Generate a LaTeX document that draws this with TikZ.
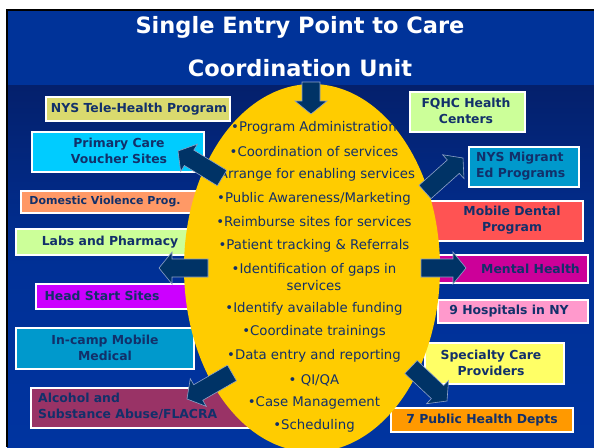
\documentclass[tikz,border=0pt]{standalone}
\usepackage{fontspec}
\setmainfont{DejaVu Sans}
\usetikzlibrary{calc}
\definecolor{navytext}{HTML}{12306A}
\definecolor{titlebar}{HTML}{003399}
\definecolor{arrowblue}{HTML}{003366}
\definecolor{arrowedge}{HTML}{8FA3C8}
\definecolor{ellfill}{HTML}{FFCC00}
\definecolor{cKhaki}{HTML}{DADA6E}
\definecolor{cCyan}{HTML}{00CCFF}
\definecolor{cSalmon}{HTML}{FF9966}
\definecolor{cLime}{HTML}{CCFF99}
\definecolor{cViolet}{HTML}{CC00FF}
\definecolor{cTeal}{HTML}{0099CC}
\definecolor{cPlum}{HTML}{993366}
\definecolor{cRed}{HTML}{FF5353}
\definecolor{cMagenta}{HTML}{CC0099}
\definecolor{cPink}{HTML}{FF99CC}
\definecolor{cYellow}{HTML}{FFFF66}
\definecolor{cOrange}{HTML}{FF9900}
\tikzset{
  boxsty/.style={draw=white, line width=1.3pt},
  boxtxt/.style={font=\bfseries\fontsize{12.4}{16}\selectfont, text=navytext, align=center, inner sep=0pt},
  elltxt/.style={font=\fontsize{13.3}{15}\selectfont, text=navytext, inner sep=0pt},
  titletxt/.style={font=\bfseries\fontsize{22.5}{26}\selectfont, text=white, inner sep=0pt},
  blockarr/.style={fill=arrowblue, draw=arrowedge, line width=0.6pt, line join=miter},
}
\newcommand{\blockarrow}[2]{%
  \coordinate (#1h) at ($(#2)!13pt!(#1)$);
  \draw[blockarr] ($(#1)!9pt!90:(#2)$) -- ($(#1h)!9pt!90:(#2)$) -- ($(#1h)!16pt!90:(#2)$) -- (#2)
    -- ($(#1h)!16pt!-90:(#2)$) -- ($(#1h)!9pt!-90:(#2)$) -- ($(#1)!9pt!-90:(#2)$) -- cycle;}
\begin{document}
\begin{tikzpicture}[x=1pt,y=-1pt]
\useasboundingbox (0,0) rectangle (594,447);
\fill[white] (0,0) rectangle (594,447);
% background
\shade[top color={rgb,255:red,4;green,32;blue,108}, bottom color={rgb,255:red,0;green,52;blue,160}, middle color={rgb,255:red,0;green,48;blue,150}] (7,85) rectangle (594,447);
\fill[titlebar] (7,10) rectangle (594,85);
\draw[black, line width=1.5pt] (6.75,447) -- (6.75,9.75) -- (594,9.75);
\node[titletxt] (title1) at (300,27) {Single Entry Point to Care};
\node[titletxt] (title2) at (300,68) {Coordination Unit};
% left boxes
\draw[boxsty, fill=cKhaki] (46,97) rectangle (230,121);
\node[boxtxt] (tele) at (139,109) {NYS Tele-Health Program};
\draw[boxsty, fill=cCyan] (32,132) rectangle (204,172);
\node[boxtxt] (pcv) at (119,151) {Primary Care\\Voucher Sites};
\draw[boxsty, fill=cSalmon] (21,191) rectangle (200,213);
\node[boxtxt, font=\bfseries\fontsize{11}{13}\selectfont] (dv) at (105,202) {Domestic Violence Prog.};
\draw[boxsty, fill=cLime] (16,229) rectangle (200,255);
\node[boxtxt] (labs) at (110,242) {Labs and Pharmacy};
\draw[boxsty, fill=cViolet] (36,284) rectangle (200,309);
\node[boxtxt] (head) at (102,296) {Head Start Sites};
\draw[boxsty, fill=cTeal] (16,328) rectangle (194,369);
\node[boxtxt] (incamp) at (105,348) {In-camp Mobile\\Medical};
\draw[boxsty, fill=cPlum] (31,388) rectangle (260,428);
\node[boxtxt, align=left, anchor=west] (alc) at (38,406) {Alcohol and\\Substance Abuse/FLACRA};
% right boxes
\draw[boxsty, fill=cLime] (410,92) rectangle (525,132);
\node[boxtxt] (fqhc) at (466,111) {FQHC Health\\Centers};
\draw[boxsty, fill=cTeal] (469,147) rectangle (579,187);
\node[boxtxt, align=left, anchor=west] (mig) at (476,166) {NYS Migrant\\Ed Programs};
\draw[boxsty, fill=cRed] (430,201) rectangle (583,241);
\node[boxtxt] (dental) at (512,220) {Mobile Dental\\Program};
\draw[boxsty, fill=cMagenta] (430,255) rectangle (588,283);
\node[boxtxt, anchor=east] (mental) at (580,269) {Mental Health};
\draw[boxsty, fill=cPink] (438,300) rectangle (588,323);
\node[boxtxt] (hosp) at (509,311.5) {9 Hospitals in NY};
\draw[boxsty, fill=cYellow] (425,343) rectangle (564,384);
\node[boxtxt] (spec) at (491,363) {Specialty Care\\Providers};
\draw[boxsty, fill=cOrange] (391,408) rectangle (573,432);
\node[boxtxt] (phd) at (482,420) {7 Public Health Depts};
% central ellipse
\fill[ellfill] (312,268) ellipse [x radius=128, y radius=184];
\node[elltxt] (e1) at (314,128) {•Program Administration};
\node[elltxt] (e2) at (314,152) {•Coordination of services};
\node[elltxt] (e3) at (317,175) {Arrange for enabling services};
\node[elltxt] (e4) at (314,199) {•Public Awareness/Marketing};
\node[elltxt] (e5) at (314,222) {•Reimburse sites for services};
\node[elltxt] (e6) at (314,246) {•Patient tracking \& Referrals};
\node[elltxt] (e7) at (314,270) {•Identification of gaps in};
\node[elltxt] (e7b) at (314,286) {services};
\node[elltxt] (e8) at (314,309) {•Identify available funding};
\node[elltxt] (e9) at (314,332) {•Coordinate trainings};
\node[elltxt] (e10) at (314,356) {•Data entry and reporting};
\node[elltxt] (e11) at (314,380) {• QI/QA};
\node[elltxt] (e12) at (314,403) {•Case Management};
\node[elltxt] (e13) at (314,426) {•Scheduling};
% arrows
\coordinate (dT) at (311,82);   \coordinate (dH) at (311,114);
\coordinate (ulT) at (222,178); \coordinate (ulH) at (178,151);
\coordinate (urT) at (425,192); \coordinate (urH) at (463,158);
\coordinate (lT) at (208,268);  \coordinate (lH) at (159,268);
\coordinate (rT) at (421,268);  \coordinate (rH) at (466,268);
\coordinate (llT) at (232,373); \coordinate (llH) at (187,399);
\coordinate (lrT) at (411,367); \coordinate (lrH) at (447,401);
\blockarrow{dT}{dH}
\blockarrow{ulT}{ulH}
\blockarrow{urT}{urH}
\blockarrow{lT}{lH}
\blockarrow{rT}{rH}
\blockarrow{llT}{llH}
\blockarrow{lrT}{lrH}
\end{tikzpicture}
\end{document}
